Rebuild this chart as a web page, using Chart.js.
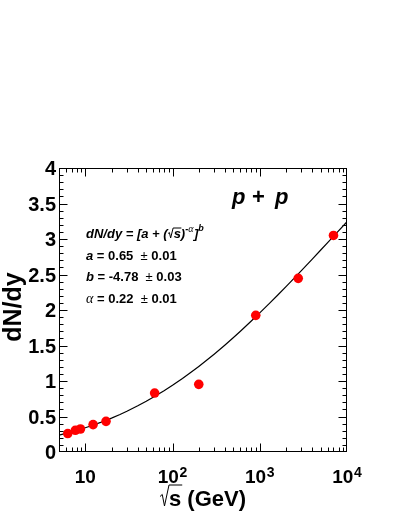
<!DOCTYPE html>
<html><head><meta charset="utf-8">
<script src="https://cdn.jsdelivr.net/npm/chart.js@4"></script>
<style>html,body{margin:0;padding:0;background:#fff;overflow:hidden}#wrap{width:399px;height:516px}</style>
</head><body><div id="wrap"><canvas id="c" width="399" height="516"></canvas></div>
<script>
// ---- data ----
const sqrtS = [6.3, 7.7, 8.8, 12.3, 17.3, 62.4, 200, 900, 2760, 7000];
const dNdy  = [0.26, 0.306, 0.324, 0.386, 0.432, 0.83, 0.953, 1.925, 2.446, 3.05];
// fit parameters printed on the chart: dN/dy = [a + (sqrt s)^-alpha]^b
const fitA = 0.65, fitB = -4.78, fitAlpha = 0.22;
const fitX = [5, 6, 7, 8, 10, 12, 15, 20, 25, 30, 40, 50, 60, 80, 100, 130, 160, 200, 250, 300, 400, 500, 600, 800, 1000, 1300, 1600, 2000, 2500, 3000, 4000, 5000, 6000, 8000, 10000];
const fitY = fitX.map(v => Math.pow(fitA + Math.pow(v, -fitAlpha), fitB));

const xTickValues = [10, 100, 1000, 10000];
const xTickBase = ['10', '10', '10', '10'];
const xTickExp = ['', '2', '3', '4'];
const yTickValues = [0, 0.5, 1, 1.5, 2, 2.5, 3, 3.5, 4];
const yTickLabels = ['0', '0.5', '1', '1.5', '2', '2.5', '3', '3.5', '4'];
const xMin = 5, xMax = 10000, yMin = 0, yMax = 4;

const FONT = '"Liberation Sans", Arial, Helvetica, sans-serif';

function drawRadical(ctx, x, base, w, h) {
  ctx.beginPath();
  ctx.moveTo(x, base - h * 0.45);
  ctx.lineTo(x + w * 0.25, base - h * 0.55);
  ctx.lineTo(x + w * 0.5, base);
  ctx.lineTo(x + w, base - h);
  return x + w;
}

const decor = {
  id: 'decor',
  afterDatasetsDraw(chart) {
    const { ctx, chartArea: ca, scales: { x, y } } = chart;
    ctx.save();
    ctx.strokeStyle = '#000';
    ctx.fillStyle = '#000';
    ctx.lineWidth = 1;
    const L = ca.left + 0.5, R = ca.right - 0.5, T = ca.top + 0.5, B = ca.bottom - 0.5;
    ctx.strokeRect(L, T, R - L, B - T);

    // x ticks (inside, top and bottom)
    ctx.beginPath();
    for (let d = 0; d <= 3; d++) {
      for (let m = 1; m <= 9; m++) {
        const v = m * Math.pow(10, d);
        if (v <= xMin || v >= xMax) continue;
        const px = Math.round(x.getPixelForValue(v)) + 0.5;
        const len = (m === 1) ? 8 : 4;
        ctx.moveTo(px, B); ctx.lineTo(px, B - len);
        ctx.moveTo(px, T); ctx.lineTo(px, T + len);
      }
    }
    // y ticks (inside, left and right)
    for (let i = 1; i < 40; i++) {
      const v = i / 10;
      const py = Math.round(y.getPixelForValue(v)) + 0.5;
      const len = (i % 5 === 0) ? 8 : 4;
      ctx.moveTo(L, py); ctx.lineTo(L + len, py);
      ctx.moveTo(R, py); ctx.lineTo(R - len, py);
    }
    ctx.stroke();

    // y tick labels
    ctx.font = 'bold 20px ' + FONT;
    ctx.textAlign = 'right';
    ctx.textBaseline = 'alphabetic';
    yTickValues.forEach((v, i) => {
      const py = y.getPixelForValue(v);
      ctx.fillText(yTickLabels[i], 56, py + 7);
    });

    // x tick labels with superscripts
    ctx.textAlign = 'left';
    xTickValues.forEach((v, i) => {
      const px = x.getPixelForValue(v);
      ctx.font = 'bold 19px ' + FONT;
      const w1 = ctx.measureText(xTickBase[i]).width;
      ctx.font = 'bold 14px ' + FONT;
      const w2 = xTickExp[i] ? ctx.measureText(xTickExp[i]).width + 0.5 : 0;
      const x0 = px - (w1 + w2) / 2;
      ctx.font = 'bold 19px ' + FONT;
      ctx.fillText(xTickBase[i], x0, 483);
      if (xTickExp[i]) {
        ctx.font = 'bold 14px ' + FONT;
        ctx.fillText(xTickExp[i], x0 + w1 + 0.5, 477);
      }
    });

    // x axis title: sqrt(s) (GeV)
    ctx.font = 'bold 22px ' + FONT;
    const tW = ctx.measureText('s (GeV)').width;
    const radW = 9;
    const cx = (ca.left + ca.right) / 2;
    const tx0 = cx - (tW + radW) / 2;
    const base = 506;
    ctx.lineWidth = 1;
    ctx.beginPath();
    const rx = drawRadical(ctx, tx0, base, radW, 21);
    ctx.lineTo(rx + ctx.measureText('s').width + 1, base - 21);
    ctx.stroke();
    ctx.fillText('s (GeV)', rx, base);

    // y axis title
    ctx.save();
    ctx.translate(21, 307);
    ctx.rotate(-Math.PI / 2);
    ctx.font = 'bold 25px ' + FONT;
    ctx.textAlign = 'center';
    ctx.fillText('dN/dy', 0, 0);
    ctx.restore();

    // p + p
    ctx.textAlign = 'left';
    ctx.font = 'italic bold 22px ' + FONT;
    ctx.fillText('p', 232, 204);
    ctx.font = 'bold 22px ' + FONT;
    ctx.fillText('+', 252, 204);
    ctx.font = 'italic bold 22px ' + FONT;
    ctx.fillText('p', 275, 204);

    // fit formula
    const fB = 'italic bold 13px ' + FONT;
    const fU = 'bold 13px ' + FONT;
    const fN = '13px ' + FONT;
    const fS = 'italic bold 9px ' + FONT;
    const fAl = 'italic 14px "Liberation Serif", "DejaVu Serif", serif';
    let cxp = 86;
    const b1 = 238;
    function seg(t, f, dy) { ctx.font = f; ctx.fillText(t, cxp, b1 + (dy || 0)); cxp += ctx.measureText(t).width; }
    seg('dN/dy = [a + (', fB);
    ctx.beginPath();
    let r2 = drawRadical(ctx, cxp + 0.5, b1, 5, 10);
    ctx.font = fB;
    ctx.lineTo(r2 + ctx.measureText('s').width + 1, b1 - 10);
    ctx.stroke();
    cxp = r2 + 0.5;
    seg('s', fB);
    seg(')', fB);
    seg('-', fS, -6);
    ctx.font = 'italic 10px "Liberation Serif", "DejaVu Serif", serif';
    ctx.fillText('α', cxp, b1 - 6); cxp += ctx.measureText('α').width + 0.5;
    seg(']', fB);
    seg('b', fS, -7);

    function paramLine(sym, symFont, val, err, baseY) {
      let px = 86;
      ctx.font = symFont; ctx.fillText(sym, px, baseY); px += ctx.measureText(sym).width;
      ctx.font = fU; const t1 = ' = ' + val + '  '; ctx.fillText(t1, px, baseY); px += ctx.measureText(t1).width;
      ctx.font = fN; ctx.fillText('±', px, baseY); px += ctx.measureText('±').width;
      ctx.font = fU; ctx.fillText(' ' + err, px, baseY);
    }
    paramLine('a', fB, '0.65', '0.01', 259.5);
    paramLine('b', fB, '-4.78', '0.03', 281);
    paramLine('α', fAl, '0.22', '0.01', 302.5);

    ctx.restore();
  }
};

new Chart(document.getElementById('c'), {
  type: 'scatter',
  data: {
    datasets: [
      {
        label: 'fit',
        data: fitX.map((v, i) => ({ x: v, y: fitY[i] })),
        showLine: true,
        borderColor: '#000',
        borderWidth: 1.2,
        pointRadius: 0,
        fill: false,
        tension: 0,
        order: 2
      },
      {
        label: 'p+p',
        data: sqrtS.map((v, i) => ({ x: v, y: dNdy[i] })),
        backgroundColor: '#ff0000',
        borderColor: '#ff0000',
        borderWidth: 0,
        pointRadius: 4.8,
        pointStyle: 'circle',
        order: 1
      }
    ]
  },
  options: {
    responsive: false,
    animation: false,
    events: [],
    layout: { padding: { left: 59, top: 168, right: 52, bottom: 64 } },
    plugins: { legend: { display: false }, tooltip: { enabled: false } },
    scales: {
      x: { type: 'logarithmic', min: xMin, max: xMax, display: false },
      y: { type: 'linear', min: yMin, max: yMax, display: false }
    }
  },
  plugins: [decor]
});
</script>
</body></html>
